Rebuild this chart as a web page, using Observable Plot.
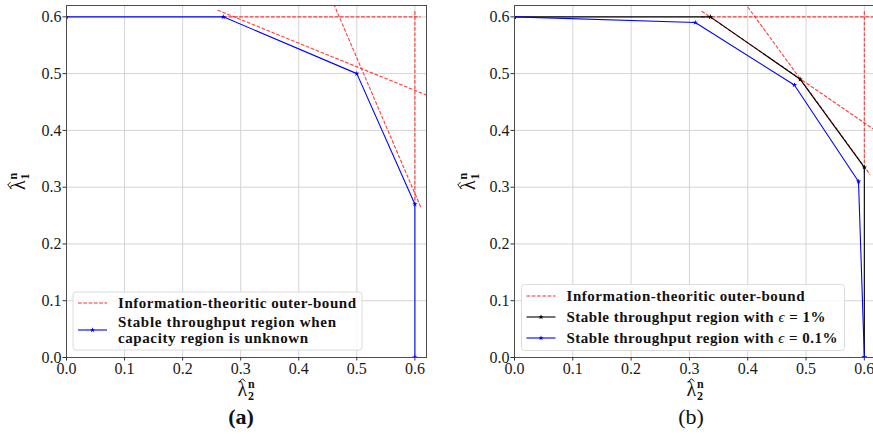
<!DOCTYPE html>
<html><head><meta charset="utf-8">
<script src="https://cdn.jsdelivr.net/npm/d3@7"></script>
<script src="https://cdn.jsdelivr.net/npm/@observablehq/plot@0.6"></script>
<style>
html,body{margin:0;padding:0;width:873px;height:434px;overflow:hidden;background:#fff;}
#root{position:relative;width:873px;height:434px;overflow:hidden;font-family:'Liberation Serif',serif;}
.panel{position:absolute;top:0;}
#root svg text, #root svg tspan{font-family:'Liberation Serif',serif;}
#overlay{position:absolute;left:0;top:0;pointer-events:none;}
</style></head><body><div id="root"></div>
<script>
// ---------- data ----------
const tickValues = [0, 0.1, 0.2, 0.3, 0.4, 0.5, 0.6];
const tickLabels = ["0.0", "0.1", "0.2", "0.3", "0.4", "0.5", "0.6"];
const axisDomain = [0, 0.62];

// panel (a): stable throughput region when capacity region is unknown
const aStableX = [0, 0.27, 0.5, 0.6, 0.6];
const aStableY = [0.6, 0.6, 0.5, 0.27, 0];
// panel (a): outer-bound segments (x1,y1)-(x2,y2)
const aBoundX1 = [0.27, 0.6, 0.26, 0.453];
const aBoundY1 = [0.6, 0.61, 0.612, 0.64];
const aBoundX2 = [0.61, 0.6, 0.63, 0.61];
const aBoundY2 = [0.6, 0.27, 0.458, 0.265];

// panel (b): epsilon = 1% and epsilon = 0.1%
const bEps1X = [0, 0.336, 0.49, 0.6, 0.6];
const bEps1Y = [0.6, 0.6, 0.49, 0.335, 0];
const bEps01X = [0, 0.31, 0.48, 0.59, 0.6];
const bEps01Y = [0.6, 0.59, 0.48, 0.31, 0];
const bBoundX1 = [0.32, 0.6, 0.321, 0.384];
const bBoundY1 = [0.6, 0.61, 0.61, 0.64];
const bBoundX2 = [0.63, 0.6, 0.63, 0.61];
const bBoundY2 = [0.6, 0.325, 0.392, 0.322];

// ---------- helpers ----------
const serif = "'Liberation Serif', serif";
const toPts = (xs, ys) => xs.map((x, i) => ({x, y: ys[i]}));
const toSegs = (x1, y1, x2, y2) => x1.map((v, i) => ({x1: v, y1: y1[i], x2: x2[i], y2: y2[i]}));
const fmt = d => tickLabels[tickValues.indexOf(d)] ?? d3.format(".1f")(d);
const RED = "#ff2a2a";

function panel({width, marginLeft, marginRight, bounds, series}) {
  const marks = [
    Plot.gridX(tickValues, {stroke: "#d4d4d4", strokeOpacity: 1, strokeWidth: 1}),
    Plot.gridY(tickValues, {stroke: "#d4d4d4", strokeOpacity: 1, strokeWidth: 1}),
    Plot.link(bounds, {x1: "x1", y1: "y1", x2: "x2", y2: "y2", stroke: RED, strokeOpacity: 0.9, strokeWidth: 1.1, strokeDasharray: "3.7,1.6", clip: true})
  ];
  for (const s of series) {
    marks.push(Plot.line(s.data, {x: "x", y: "y", stroke: s.color, strokeWidth: 1.1, clip: true}));
    marks.push(Plot.dot(s.data, {x: "x", y: "y", symbol: "star", r: 1.7, fill: s.color, stroke: "none", clip: true}));
  }
  marks.push(
    Plot.frame({stroke: "#4d4d4d", strokeWidth: 1}),
    Plot.axisX(tickValues, {tickFormat: fmt, tickSize: 3.5, tickPadding: 2, fontSize: 16, label: null, stroke: "#333"}),
    Plot.axisY(tickValues, {tickFormat: fmt, tickSize: 3.5, tickPadding: 1.5, fontSize: 16, label: null, stroke: "#333"})
  );
  const p = Plot.plot({
    width, height: 400, marginLeft, marginRight, marginTop: 5, marginBottom: 43,
    x: {domain: axisDomain, label: null},
    y: {domain: axisDomain, label: null},
    style: {fontFamily: "Liberation Serif", fontSize: "16px", color: "#1a1a1a", background: "transparent", overflow: "visible"},
    marks
  });
  return p;
}

const root = document.getElementById("root");
const pa = panel({
  width: 440, marginLeft: 66, marginRight: 14,
  bounds: toSegs(aBoundX1, aBoundY1, aBoundX2, aBoundY2),
  series: [{data: toPts(aStableX, aStableY), color: "#0000ff"}]
});
pa.classList.add("panel"); pa.style.left = "0px";
root.appendChild(pa);

const pb = panel({
  width: 436, marginLeft: 74, marginRight: 0.5,
  bounds: toSegs(bBoundX1, bBoundY1, bBoundX2, bBoundY2),
  series: [
    {data: toPts(bEps1X, bEps1Y), color: "#000000"},
    {data: toPts(bEps01X, bEps01Y), color: "#0000ff"}
  ]
});
pb.classList.add("panel"); pb.style.left = "440px";
root.appendChild(pb);

// ---------- overlay: legends, axis labels, captions ----------
const svg = d3.select(root).append("svg").attr("id", "overlay")
  .attr("width", 873).attr("height", 434)
  .attr("font-family", "Liberation Serif");

function legend(x, y, w, h, rows) {
  const g = svg.append("g").attr("transform", `translate(${x},${y})`);
  g.append("rect").attr("width", w).attr("height", h).attr("rx", 3)
    .attr("fill", "rgba(255,255,255,0.85)").attr("stroke", "#dcdcdc").attr("stroke-width", 1);
  for (const r of rows) {
    g.append("line").attr("x1", 5).attr("x2", 34).attr("y1", r.sy).attr("y2", r.sy)
      .attr("stroke", r.color).attr("stroke-width", 1.1)
      .attr("stroke-dasharray", r.dash ? "3.7,1.6" : null);
    if (!r.dash) {
      g.append("path").attr("d", d3.symbol(d3.symbolStar, 9)()).attr("transform", `translate(19.5,${r.sy})`).attr("fill", r.color);
    }
    for (const t of r.lines) {
      const tx = g.append("text").attr("x", 45).attr("y", t.y).attr("font-size", 15).attr("font-weight", "bold")
        .attr("fill", "#111").attr("textLength", t.w).attr("lengthAdjust", "spacing");
      if (t.eps) {
        tx.append("tspan").text(t.pre + " ");
        tx.append("tspan").attr("font-weight", "normal").attr("font-style", "italic").text("\u03F5");
        tx.append("tspan").text(" " + t.post);
      } else tx.text(t.text);
    }
  }
}

legend(73, 292, 289, 58, [
  {color: RED, dash: true, sy: 11, lines: [{text: "Information-theoritic outer-bound", y: 16, w: 238}]},
  {color: "#0000ff", dash: false, sy: 38, lines: [
    {text: "Stable throughput region when", y: 35, w: 218},
    {text: "capacity region is unknown", y: 50.5, w: 190}
  ]}
]);
legend(521.5, 284.5, 323, 66, [
  {color: RED, dash: true, sy: 11.5, lines: [{text: "Information-theoritic outer-bound", y: 16.5, w: 238}]},
  {color: "#000000", dash: false, sy: 32.5, lines: [{eps: true, pre: "Stable throughput region with", post: "= 1%", y: 37.5, w: 259}]},
  {color: "#0000ff", dash: false, sy: 53.5, lines: [{eps: true, pre: "Stable throughput region with", post: "= 0.1%", y: 58.5, w: 271}]}
]);

// λ̂ with bold superscript n and bold subscript; hat drawn as a small path
function lambdaLabel(cx, cy, sub, rotate) {
  const g = svg.append("g").attr("transform", `translate(${cx},${cy})${rotate ? " rotate(-90)" : ""}`);
  g.append("path").attr("d", "M2.2,-14.5 L5,-17.3 L7.8,-14.5").attr("fill", "none").attr("stroke", "#111").attr("stroke-width", 1);
  const t = g.append("text").attr("font-size", 20).attr("fill", "#111");
  t.append("tspan").attr("x", 0).attr("y", 0).text("\u03BB");
  t.append("tspan").attr("x", 10.5).attr("y", -8).attr("font-size", 12).attr("font-weight", "bold").text("n");
  t.append("tspan").attr("x", 10.5).attr("y", 3.5).attr("font-size", 12).attr("font-weight", "bold").text(sub);
}
lambdaLabel(237.5, 396, "2", false);
lambdaLabel(686.5, 396, "2", false);
lambdaLabel(25, 190, "1", true);
lambdaLabel(475, 190, "1", true);

svg.append("text").attr("x", 241).attr("y", 424).attr("text-anchor", "middle").attr("font-size", 22).attr("font-weight", "bold").attr("fill", "#111").text("(a)");
svg.append("text").attr("x", 691).attr("y", 424).attr("text-anchor", "middle").attr("font-size", 22).attr("fill", "#111").text("(b)");
</script>
</body></html>
